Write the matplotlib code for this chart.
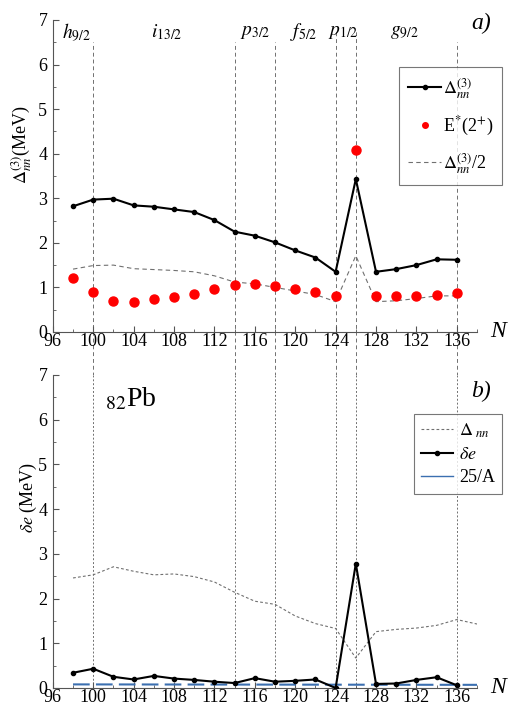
import matplotlib
matplotlib.use('Agg')
from matplotlib import pyplot as plt
from matplotlib.ticker import MultipleLocator

plt.rcParams['font.family'] = ['Liberation Serif', 'DejaVu Serif']
plt.rcParams['mathtext.fontset'] = 'stix'

# neutron number
N = [98, 100, 102, 104, 106, 108, 110, 112, 114, 116, 118,
     120, 122, 124, 126, 128, 130, 132, 134, 136]

# panel a
delta3 = [2.82, 2.97, 2.99, 2.84, 2.81, 2.75, 2.69, 2.51, 2.25, 2.16, 2.01,
          1.83, 1.67, 1.35, 3.43, 1.35, 1.41, 1.50, 1.63, 1.62]
e2plus = [1.20, 0.89, 0.70, 0.67, 0.73, 0.78, 0.85, 0.97, 1.05, 1.07, 1.03,
          0.97, 0.90, 0.81, 4.09, 0.81, 0.81, 0.81, 0.84, 0.88]
delta3_half = [1.41, 1.49, 1.50, 1.42, 1.40, 1.38, 1.35, 1.26, 1.12, 1.08, 1.00,
               0.92, 0.84, 0.68, 1.71, 0.68, 0.70, 0.75, 0.81, 0.81]

# panel b
de = [0.34, 0.43, 0.25, 0.19, 0.27, 0.21, 0.18, 0.14, 0.11, 0.22, 0.14,
      0.16, 0.19, 0.00, 2.78, 0.09, 0.10, 0.18, 0.24, 0.06]
N_nn = N + [138]
delta_nn = [2.46, 2.53, 2.71, 2.61, 2.53, 2.55, 2.49, 2.37, 2.14, 1.94, 1.87,
            1.61, 1.44, 1.33, 0.67, 1.26, 1.31, 1.34, 1.40, 1.53, 1.43]
N_a = [98, 138]
inv_a = [0.08, 0.07]

# shell closures / orbital labels
vlines = [100, 114, 118, 124, 126, 136]
vtops = [6.5, 6.5, 6.5, 6.75, 6.75, 6.5]
orbits = [r'$h_{9/2}$', r'$i_{13/2}$', r'$p_{3/2}$', r'$f_{5/2}$', r'$p_{1/2}$', r'$g_{9/2}$']
orbit_x = [98.3, 107.3, 116.0, 120.8, 124.8, 130.8]

fig = plt.figure(figsize=(5.08, 7.15), dpi=100)
ax1 = fig.add_axes([0.104, 0.5357, 0.835, 0.4364])
ax2 = fig.add_axes([0.104, 0.0378, 0.835, 0.4378])

gray = '#707070'
fs = 13

for ax in (ax1, ax2):
    ax.set_xlim(96, 138)
    ax.set_ylim(0, 7)
    ax.spines['top'].set_visible(False)
    ax.spines['right'].set_visible(False)
    ax.spines['left'].set_color('#555555')
    ax.spines['bottom'].set_color('#555555')
    ax.xaxis.set_major_locator(MultipleLocator(4))
    ax.xaxis.set_minor_locator(MultipleLocator(2))
    ax.yaxis.set_major_locator(MultipleLocator(1))
    ax.yaxis.set_minor_locator(MultipleLocator(0.5))
    ax.tick_params(which='both', direction='in', labelsize=fs, color='#555555')
    ax.tick_params(axis='x', pad=1)
    ax.tick_params(axis='y', pad=4)
    ax.tick_params(which='major', length=4)
    ax.tick_params(which='minor', length=2.5)
    ax.text(139.3, 0, 'N', fontsize=17, style='italic', ha='left', va='center', clip_on=False)

for x, t in zip(vlines, vtops):
    ax1.axvline(x, ymin=-0.14, ymax=t / 7, color=gray, lw=0.7, ls=(0, (4, 3)), clip_on=False, zorder=1)
    ax2.axvline(x, ymin=0, ymax=1, color=gray, lw=0.7, ls=(0, (2, 2)), clip_on=False, zorder=1)

for lab, x in zip(orbits, orbit_x):
    ax1.text(x, 6.72, lab, fontsize=14, ha='center', va='center')

# panel a
ax1.plot(N, delta3, color='black', lw=1.5, marker='o', markersize=3, label=r'$\Delta_{nn}^{(3)}$', zorder=3)
ax1.plot(N, e2plus, ls='none', marker='o', markersize=6.5, color='#ff0000', label=r'E$^{*}$(2$^{+}$)', zorder=4)
ax1.plot(N, delta3_half, color=gray, lw=0.8, ls=(0, (4, 3)), label=r'$\Delta_{nn}^{(3)}$/2', zorder=2)
ax1.set_ylabel(r'$\Delta_{nn}^{(3)}$(MeV)', fontsize=13)
ax1.yaxis.set_label_coords(-0.045, 0.6)
ax1.text(139.4, 6.93, 'a)', fontsize=17, style='italic', ha='right', va='center', clip_on=False)
leg1 = ax1.legend(loc='upper right', bbox_to_anchor=(1.059, 0.849), borderaxespad=0, fontsize=13,
                  frameon=True, fancybox=False, edgecolor='#555555', handlelength=1.8,
                  handletextpad=0.1, borderpad=0.5, labelspacing=0.75)
leg1.get_frame().set_linewidth(0.8)
leg1.set_zorder(10)
leg1.get_lines()[1].set_markersize(4)

# panel b
ax2.plot(N_nn, delta_nn, color=gray, lw=0.8, ls=(0, (2.5, 2)), label=r'$\Delta_{\ nn}$', zorder=2)
ax2.plot(N, de, color='black', lw=1.5, marker='o', markersize=3, label=r'$\delta e$', zorder=3)
ax2.plot(N_a, inv_a, color='#3b6fb0', lw=1.5, ls=(0, (8, 3)), label='25/A', zorder=2)
ax2.set_ylabel(r'$\delta e$ (MeV)', fontsize=13)
ax2.yaxis.set_label_coords(-0.032, 0.61)
ax2.text(139.4, 6.62, 'b)', fontsize=17, style='italic', ha='right', va='center', clip_on=False)
ax2.text(101.2, 6.45, r'$_{82}$Pb', fontsize=20, ha='left', va='center')
leg2 = ax2.legend(loc='upper right', bbox_to_anchor=(1.059, 0.875), borderaxespad=0, fontsize=13,
                  frameon=True, fancybox=False, edgecolor='#555555', handlelength=1.8,
                  handletextpad=0.3, borderpad=0.4, labelspacing=0.35)
leg2.get_frame().set_linewidth(0.8)
leg2.set_zorder(10)
leg2.get_lines()[2].set_linestyle('-')
leg2.get_lines()[2].set_linewidth(1.0)

fig.savefig('out.png', dpi=100)
